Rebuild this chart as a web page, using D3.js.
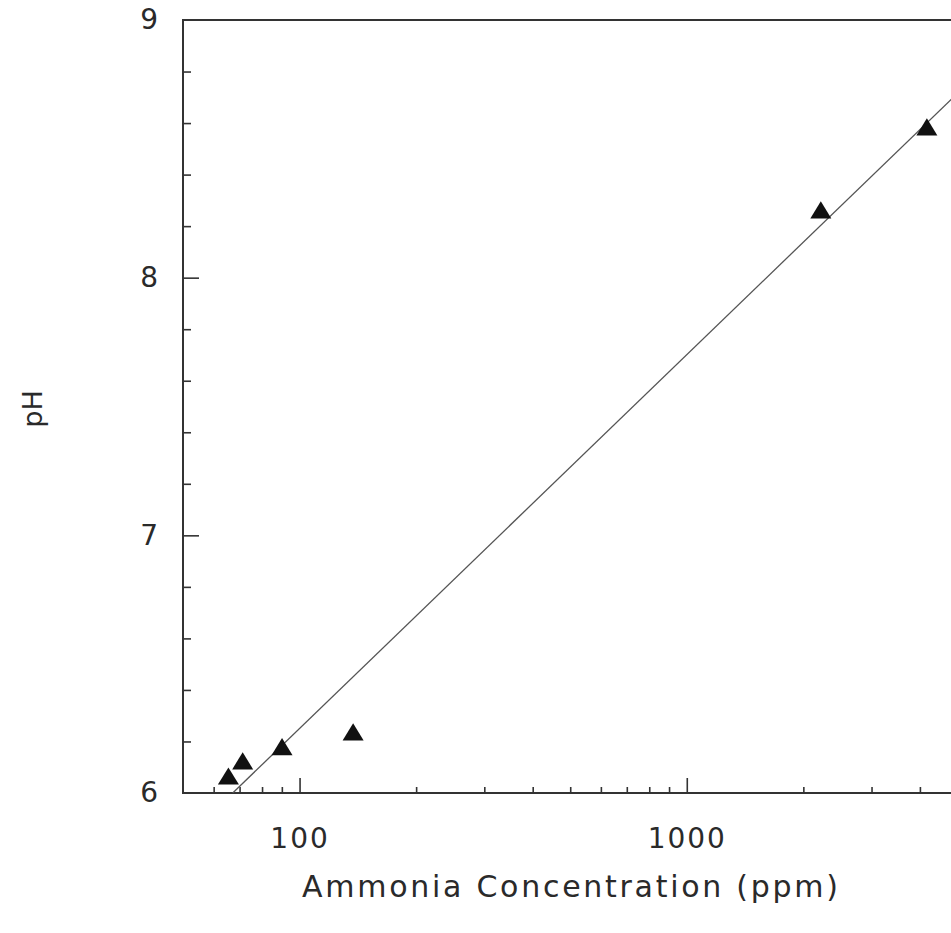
<!DOCTYPE html>
<html>
<head>
<meta charset="utf-8">
<script src="https://cdn.jsdelivr.net/npm/d3@7"></script>
<style>
  body { margin: 0; background: #fff; }
  text { font-family: "DejaVu Sans", sans-serif; fill: #2a2a2a; }
</style>
</head>
<body>
<svg class="chart"></svg>
<script>
// measured points
const ammonia = [65.5, 71.3, 90.1, 137.5, 2219, 4169];
const pH = [6.066, 6.125, 6.18, 6.237, 8.263, 8.585];

// fitted line, two end points
const fitAmmonia = [67.2, 6000];
const fitPH = [6.0, 8.83];

const xMajor = [100, 1000, 10000];
const xMinor = [60, 70, 80, 90, 200, 300, 400, 500, 600, 700, 800, 900,
                2000, 3000, 4000, 5000, 6000, 7000, 8000, 9000];
const xLabels = [100, 1000];
const yMajor = [6, 7, 8, 9];
const yMinor = [6.2, 6.4, 6.6, 6.8, 7.2, 7.4, 7.6, 7.8, 8.2, 8.4, 8.6, 8.8];

const width = 951, height = 933;
const plotLeft = 183, plotTop = 20, plotRight = 1074, plotBottom = 793;

const svg = d3.select(".chart").attr("width", width).attr("height", height);

const x = d3.scaleLog().domain([50, 10000]).range([plotLeft, plotRight]);
const y = d3.scaleLinear().domain([6, 9]).range([plotBottom, plotTop]);

svg.append("defs").append("clipPath").attr("id", "plot")
  .append("rect").attr("x", plotLeft).attr("y", plotTop)
  .attr("width", plotRight - plotLeft).attr("height", plotBottom - plotTop);

// frame
svg.append("rect")
  .attr("x", plotLeft).attr("y", plotTop)
  .attr("width", plotRight - plotLeft).attr("height", plotBottom - plotTop)
  .attr("fill", "none").attr("stroke", "#333").attr("stroke-width", 2);

const tickStyle = g => {
  g.select(".domain").remove();
  g.selectAll(".tick line").attr("stroke", "#333").attr("stroke-width", 1.6);
};

// x ticks, pointing inwards
svg.append("g").attr("transform", `translate(0,${plotBottom})`)
  .call(d3.axisBottom(x).tickValues(xMinor).tickSize(-6).tickFormat(""))
  .call(tickStyle);

svg.append("g").attr("transform", `translate(0,${plotBottom})`)
  .call(d3.axisBottom(x).tickValues(xMajor).tickSize(-15).tickFormat(""))
  .call(tickStyle);

svg.append("g").attr("transform", `translate(0,${plotBottom})`)
  .call(d3.axisBottom(x).tickValues(xLabels).tickSize(0).tickPadding(35).tickFormat(d3.format("d")))
  .call(g => g.select(".domain").remove())
  .call(g => g.selectAll("text").attr("font-size", 28).attr("letter-spacing", 2)
    .attr("font-family", "DejaVu Sans").attr("fill", "#2a2a2a"));

// y ticks
svg.append("g").attr("transform", `translate(${plotLeft},0)`)
  .call(d3.axisLeft(y).tickValues(yMinor).tickSize(-8).tickFormat(""))
  .call(tickStyle);

svg.append("g").attr("transform", `translate(${plotLeft},0)`)
  .call(d3.axisLeft(y).tickValues(yMajor.filter(v => v > 6 && v < 9)).tickSize(-16).tickFormat(""))
  .call(tickStyle);

svg.append("g").attr("transform", `translate(${plotLeft},0)`)
  .call(d3.axisLeft(y).tickValues(yMajor).tickSize(0).tickPadding(25).tickFormat(d3.format("d")))
  .call(g => g.select(".domain").remove())
  .call(g => g.selectAll("text").attr("font-size", 28)
    .attr("font-family", "DejaVu Sans").attr("fill", "#2a2a2a"));

// fit line
const fit = fitAmmonia.map((a, i) => [a, fitPH[i]]);
svg.append("path")
  .datum(fit)
  .attr("clip-path", "url(#plot)")
  .attr("fill", "none")
  .attr("stroke", "#555")
  .attr("stroke-width", 1.3)
  .attr("d", d3.line().x(d => x(d[0])).y(d => y(d[1])));

// triangle centred on its bounding box
const triangle = {
  draw(ctx, size) {
    const w = Math.sqrt(size);
    const h = w * 0.82;
    ctx.moveTo(0, -h / 2);
    ctx.lineTo(w / 2, h / 2);
    ctx.lineTo(-w / 2, h / 2);
    ctx.closePath();
  }
};

const points = ammonia.map((a, i) => ({ a: a, p: pH[i] }));
svg.append("g").selectAll("path")
  .data(points)
  .enter()
  .append("path")
  .attr("transform", d => `translate(${x(d.a)},${y(d.p)})`)
  .attr("d", d3.symbol().type(triangle).size(21 * 21))
  .attr("fill", "#111");

// axis titles
svg.append("text")
  .attr("x", 570).attr("y", 897)
  .attr("text-anchor", "middle")
  .attr("font-size", 30)
  .attr("textLength", 536)
  .attr("lengthAdjust", "spacing")
  .text("Ammonia Concentration (ppm)");

svg.append("text")
  .attr("transform", "translate(42,409) rotate(-90)")
  .attr("text-anchor", "middle")
  .attr("font-size", 27)
  .text("pH");
</script>
</body>
</html>
